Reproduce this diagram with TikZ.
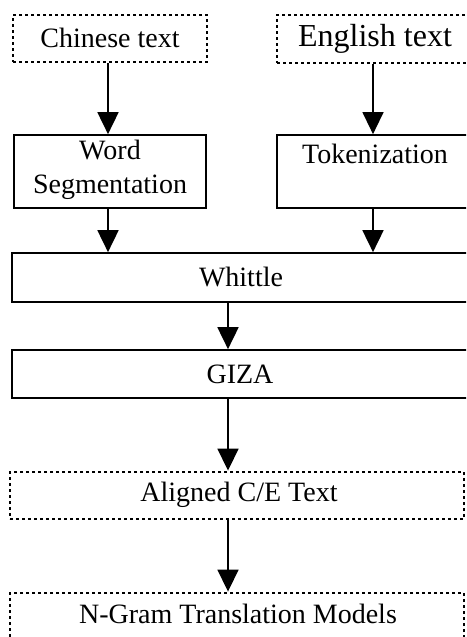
\documentclass[tikz,border=0pt]{standalone}
\usepackage{fontspec}
\setmainfont{Liberation Serif}
\usetikzlibrary{arrows.meta,positioning}
\begin{document}
\begin{tikzpicture}[x=1pt,y=-1pt,
  solidbox/.style={draw,line width=1.7pt,rectangle,inner sep=0pt,anchor=center},
  dotbox/.style={draw,line width=2.9pt,dash pattern=on 3pt off 3pt,rectangle,inner sep=0pt,anchor=center},
  arr/.style={line width=1.8pt,-{Triangle[width=21pt,length=22pt]}},
  txt/.style={font=\fontsize{28}{34}\selectfont,align=center,inner sep=0pt}]
\clip (0,0) rectangle (466,637);
\fill[white] (0,0) rectangle (466,637);
% boxes
\node[dotbox,minimum width=194pt,minimum height=47pt] (chin) at (110,38.5) {};
\node[txt] at (110,38) {Chinese text};
\node[dotbox,minimum width=196pt,minimum height=48pt] (eng) at (375,39) {};
\node[txt,font=\fontsize{32}{36}\selectfont] at (375,39) {English text};
\node[solidbox,minimum width=192pt,minimum height=73pt] (ws) at (110,171.5) {};
\node[txt] at (110,170) {Word\\Segmentation};
\node[solidbox,minimum width=196pt,minimum height=73pt] (tok) at (375,171.5) {};
\node[txt] at (375,154) {Tokenization};
\node[solidbox,minimum width=458pt,minimum height=49pt] (whittle) at (241,277.5) {};
\node[txt] at (241,277) {Whittle};
\node[solidbox,minimum width=456pt,minimum height=48pt] (giza) at (240,374) {};
\node[txt] at (240,374) {GIZA};
\node[dotbox,minimum width=454pt,minimum height=47pt] (aligned) at (237,495.5) {};
\node[txt] at (239,495) {Aligned C/E Text};
\node[dotbox,minimum width=454pt,minimum height=47pt] (ngram) at (237,616.5) {};
\node[txt] at (238,614) {N-Gram Translation Models};
% connectors
\coordinate (mx) at (228,0);
\coordinate (cx) at (108,0);
\coordinate (ex) at (373,0);
\draw[arr] (chin.south -| cx) -- (ws.north -| cx);
\draw[arr,line width=1.3pt] (eng.south -| ex) -- (tok.north -| ex);
\draw[arr] (ws.south -| cx) -- (whittle.north -| cx);
\draw[arr] (tok.south -| ex) -- (whittle.north -| ex);
\draw[arr] (whittle.south -| mx) -- (giza.north -| mx);
\draw[arr] (giza.south -| mx) -- (aligned.north -| mx);
\draw[arr] (aligned.south -| mx) -- (ngram.north -| mx);
\end{tikzpicture}
\end{document}
